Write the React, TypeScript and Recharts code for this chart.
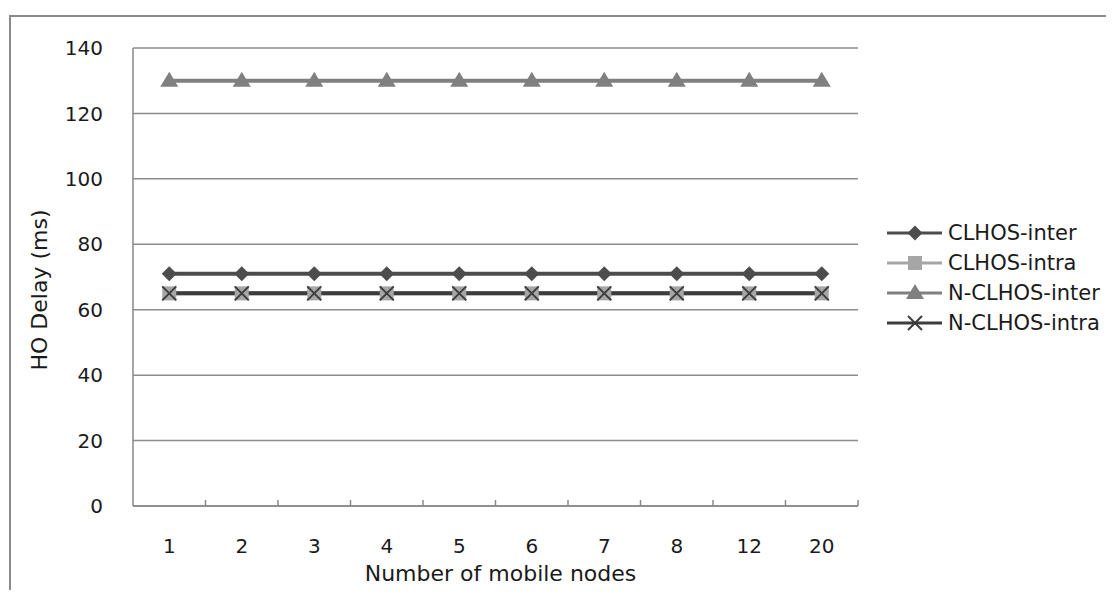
import React from 'react';
import { LineChart, Line, XAxis, YAxis, CartesianGrid, Label } from 'recharts';

const categories = ['1', '2', '3', '4', '5', '6', '7', '8', '12', '20'];
const clhosInter = [71, 71, 71, 71, 71, 71, 71, 71, 71, 71];
const clhosIntra = [65, 65, 65, 65, 65, 65, 65, 65, 65, 65];
const nClhosInter = [130, 130, 130, 130, 130, 130, 130, 130, 130, 130];
const nClhosIntra = [65, 65, 65, 65, 65, 65, 65, 65, 65, 65];
const yTicks = [0, 20, 40, 60, 80, 100, 120, 140];

const data = categories.map((c, i) => ({
  name: c,
  clhosInter: clhosInter[i],
  clhosIntra: clhosIntra[i],
  nClhosInter: nClhosInter[i],
  nClhosIntra: nClhosIntra[i],
}));

const W = 1098;
const H = 582;
const M_TOP = 40;
const M_RIGHT = 248;
const Y_W = 125;
const X_H = 84;
const PLOT_W = W - M_RIGHT - Y_W;
const AXIS_Y = H - X_H;
const BAND = PLOT_W / categories.length;
const FONT = 'DejaVu Sans, sans-serif';
const TXT = '#1a1a1a';

const C1 = '#4d4d4d';
const C2 = '#a6a6a6';
const C3 = '#808080';
const C4 = '#3c3c3c';

type Shape = 'diamond' | 'square' | 'triangle' | 'x';

function Marker({ cx, cy, shape, color }: { cx: number; cy: number; shape: Shape; color: string }) {
  if (shape === 'diamond') {
    const s = 7.5;
    return <path d={`M${cx},${cy - s}L${cx + s},${cy}L${cx},${cy + s}L${cx - s},${cy}Z`} fill={color} />;
  }
  if (shape === 'square') {
    const s = 7;
    return <rect x={cx - s} y={cy - s} width={2 * s} height={2 * s} fill={color} />;
  }
  if (shape === 'triangle') {
    return <path d={`M${cx},${cy - 9}L${cx + 9},${cy + 6}L${cx - 9},${cy + 6}Z`} fill={color} />;
  }
  const s = 7;
  return (
    <g stroke={color} strokeWidth={2}>
      <line x1={cx - s} y1={cy - s} x2={cx + s} y2={cy + s} />
      <line x1={cx - s} y1={cy + s} x2={cx + s} y2={cy - s} />
    </g>
  );
}

const makeDot = (shape: Shape, color: string) => (props: any) => {
  const { cx, cy, index } = props;
  return <Marker key={`${shape}-${index}`} cx={cx} cy={cy} shape={shape} color={color} />;
};

const XTick = (props: any) => {
  const { x, payload } = props;
  return (
    <g>
      <line x1={x + BAND / 2} y1={AXIS_Y - 6} x2={x + BAND / 2} y2={AXIS_Y} stroke="#888" strokeWidth={1.5} />
      <text x={x} y={AXIS_Y + 47} textAnchor="middle" fontFamily={FONT} fontSize={20} fill={TXT}>
        {payload.value}
      </text>
    </g>
  );
};

const legendItems: { label: string; shape: Shape; color: string; line: string }[] = [
  { label: 'CLHOS-inter', shape: 'diamond', color: C1, line: C1 },
  { label: 'CLHOS-intra', shape: 'square', color: C2, line: C2 },
  { label: 'N-CLHOS-inter', shape: 'triangle', color: C3, line: C3 },
  { label: 'N-CLHOS-intra', shape: 'x', color: C4, line: C4 },
];

const LegendBox = () => (
  <div style={{ position: 'absolute', left: 875, top: 210, width: 223, fontFamily: FONT, fontSize: 21, color: TXT }}>
    {legendItems.map((it) => (
      <div key={it.label} style={{ display: 'flex', alignItems: 'center', height: 30 }}>
        <svg width={62} height={30} style={{ display: 'block' }}>
          <line x1={4} y1={15} x2={59} y2={15} stroke={it.line} strokeWidth={3} />
          <Marker cx={32} cy={15} shape={it.shape} color={it.color} />
        </svg>
        <span style={{ marginLeft: 3, whiteSpace: 'nowrap' }}>{it.label}</span>
      </div>
    ))}
  </div>
);

const Y_LABEL_CY = 282;

export default function App() {
  return (
    <div style={{ position: 'relative', width: W, height: H, background: '#fff' }}>
      <div
        style={{
          position: 'absolute',
          left: 1,
          top: 7,
          width: W - 1,
          height: H - 7,
          borderLeft: '2px solid #8a8a8a',
          borderTop: '2px solid #8a8a8a',
          boxSizing: 'border-box',
        }}
      />
      <div style={{ position: 'absolute', left: 0, top: 0 }}>
        <LineChart width={W} height={H} data={data} margin={{ top: M_TOP, right: M_RIGHT, bottom: 0, left: 0 }}>
          <CartesianGrid vertical={false} stroke="#8c8c8c" strokeWidth={1.5} />
          <XAxis
            dataKey="name"
            height={X_H}
            axisLine={{ stroke: '#888', strokeWidth: 1.5 }}
            tickLine={false}
            tickSize={0}
            tick={<XTick />}
            interval={0}
            padding={{ left: BAND / 2, right: BAND / 2 }}
          >
            <Label
              content={() => (
                <text x={Y_W + PLOT_W / 2 + 5} y={H - 9} textAnchor="middle" fontFamily={FONT} fontSize={22} fill={TXT}>
                  Number of mobile nodes
                </text>
              )}
            />
          </XAxis>
          <YAxis
            width={Y_W}
            domain={[0, 140]}
            ticks={yTicks}
            axisLine={{ stroke: '#888', strokeWidth: 1.5 }}
            tickLine={false}
            tickSize={0}
            tickMargin={30}
            tick={{ fontFamily: FONT, fontSize: 20, fill: TXT }}
          >
            <Label
              content={() => (
                <text
                  x={31}
                  y={Y_LABEL_CY}
                  textAnchor="middle"
                  fontFamily={FONT}
                  fontSize={22}
                  fill={TXT}
                  transform={`rotate(-90 31 ${Y_LABEL_CY})`}
                  dominantBaseline="central"
                >
                  HO Delay (ms)
                </text>
              )}
            />
          </YAxis>
          <Line dataKey="clhosInter" name="CLHOS-inter" stroke={C1} strokeWidth={4} dot={makeDot('diamond', C1)} isAnimationActive={false} />
          <Line dataKey="clhosIntra" name="CLHOS-intra" stroke={C2} strokeWidth={4} dot={makeDot('square', C2)} isAnimationActive={false} />
          <Line dataKey="nClhosInter" name="N-CLHOS-inter" stroke={C3} strokeWidth={4} dot={makeDot('triangle', C3)} isAnimationActive={false} />
          <Line dataKey="nClhosIntra" name="N-CLHOS-intra" stroke={C4} strokeWidth={4} dot={makeDot('x', C4)} isAnimationActive={false} />
        </LineChart>
      </div>
      <LegendBox />
    </div>
  );
}
